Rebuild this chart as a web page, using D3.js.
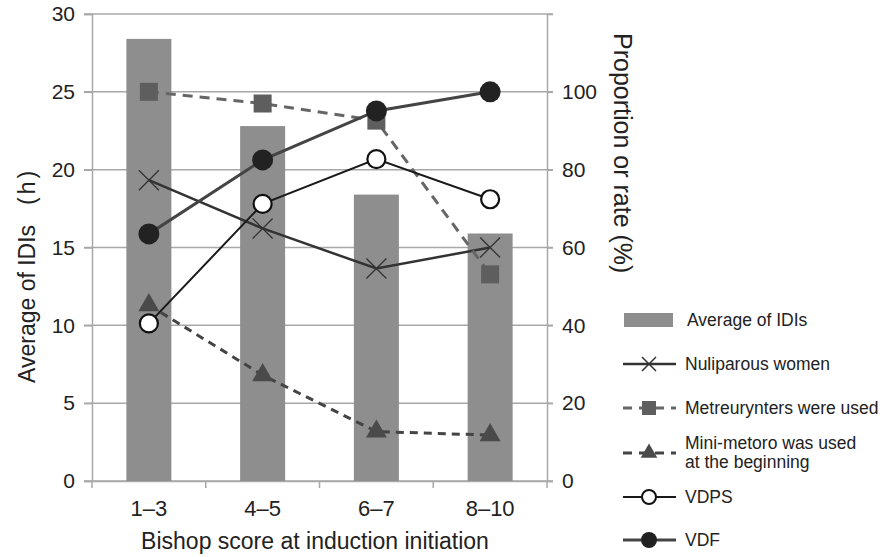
<!DOCTYPE html>
<html><head><meta charset="utf-8">
<script src="https://cdn.jsdelivr.net/npm/d3@7"></script>
<style>body{margin:0;background:#fff}svg{font-family:"Liberation Sans",Arial,sans-serif}</style>
</head><body><svg id="c" width="885" height="557"></svg>
<script>
const categories = ["1–3","4–5","6–7","8–10"];
const avgIDI = [28.4, 22.8, 18.4, 15.9];
const nuliparous = [77.3, 64.9, 54.6, 60.0];
const metreurynters = [100, 97.0, 92.6, 53.1];
const miniMetoro = [45.2, 27.2, 12.7, 11.8];
const vdps = [40.5, 71.2, 82.7, 72.4];
const vdf = [63.5, 82.5, 95.1, 100];
const leftTicks = [0,5,10,15,20,25,30];
const rightTicks = [0,20,40,60,80,100];

const svg = d3.select("#c");
const L = 92, R = 547, T = 14, B = 481;
const x = d3.scaleBand().domain(categories).range([L, R]);
const yL = d3.scaleLinear().domain([0, 30]).range([B, T]);
const yR = d3.scaleLinear().domain([0, 120]).range([B, T]);
const grid = "#a8a8a8";
const FONT = '"Liberation Sans",Arial,sans-serif';

// gridlines
svg.append("g").selectAll("line").data(leftTicks).join("line")
  .attr("x1", L - 8).attr("x2", R + 6)
  .attr("y1", d => yL(d)).attr("y2", d => yL(d))
  .attr("stroke", grid).attr("stroke-width", 1.5);

// axes
const axL = svg.append("g").attr("transform", `translate(${L},0)`)
  .call(d3.axisLeft(yL).tickValues(leftTicks).tickSize(8).tickPadding(9));
const axR = svg.append("g").attr("transform", `translate(${R},0)`)
  .call(d3.axisRight(yR).tickValues(rightTicks).tickSize(6).tickPadding(9));
const axB = svg.append("g").attr("transform", `translate(0,${B})`)
  .call(d3.axisBottom(x).tickSize(0).tickPadding(19));
[axL, axR, axB].forEach(a => {
  a.selectAll("path").attr("stroke", grid).attr("stroke-width", 1.5);
  a.selectAll("line").attr("stroke", grid).attr("stroke-width", 1.5);
  a.selectAll("text").attr("font-size", 21).attr("fill", "#222").attr("font-family", FONT);
});
axB.selectAll("text").attr("font-size", 22);
// x boundary ticks
svg.append("g").selectAll("line").data(d3.range(categories.length + 1)).join("line")
  .attr("x1", i => L + i * x.step()).attr("x2", i => L + i * x.step())
  .attr("y1", B).attr("y2", B + 7).attr("stroke", grid).attr("stroke-width", 1.5);

// bars
const bw = 45;
svg.append("g").selectAll("rect").data(avgIDI).join("rect")
  .attr("x", (d, i) => x(categories[i]) + x.bandwidth() / 2 - bw / 2)
  .attr("width", bw).attr("y", d => yL(d)).attr("height", d => B - yL(d))
  .attr("fill", "#8e8e8e");

const cx = i => x(categories[i]) + x.bandwidth() / 2;
const line = d3.line().x((d, i) => cx(i)).y(d => yR(d));

const series = [
  {name:"Nuliparous women", data:nuliparous, stroke:"#333", w:2.5, dash:null, marker:"x"},
  {name:"Metreurynters were used", data:metreurynters, stroke:"#666", w:3, dash:"10,7", marker:"square"},
  {name:"Mini-metoro was used", name2:"at the beginning", data:miniMetoro, stroke:"#444", w:3, dash:"8,6", marker:"tri"},
  {name:"VDPS", data:vdps, stroke:"#1a1a1a", w:2, dash:null, marker:"open"},
  {name:"VDF", data:vdf, stroke:"#444", w:3, dash:null, marker:"fill"}
];

function drawMarker(g, type, px, py) {
  if (type === "x") {
    g.append("path").attr("d", `M${px-10},${py-10}L${px+10},${py+10}M${px-10},${py+10}L${px+10},${py-10}`)
      .attr("stroke", "#333").attr("stroke-width", 1.3).attr("fill", "none");
  } else if (type === "square") {
    g.append("rect").attr("x", px - 9).attr("y", py - 9).attr("width", 18).attr("height", 18).attr("fill", "#5e5e5e");
  } else if (type === "tri") {
    g.append("path").attr("d", d3.symbol(d3.symbolTriangle, 190)()).attr("transform", `translate(${px},${py})`).attr("fill", "#4a4a4a");
  } else if (type === "open") {
    g.append("circle").attr("cx", px).attr("cy", py).attr("r", 9).attr("fill", "#fff").attr("stroke", "#111").attr("stroke-width", 2.2);
  } else if (type === "fill") {
    g.append("circle").attr("cx", px).attr("cy", py).attr("r", 10.5).attr("fill", "#222");
  }
}

series.forEach(s => {
  const g = svg.append("g");
  g.append("path").attr("d", line(s.data)).attr("fill", "none").attr("stroke", s.stroke)
    .attr("stroke-width", s.w).attr("stroke-dasharray", s.dash);
  s.data.forEach((d, i) => drawMarker(g, s.marker, cx(i), yR(d)));
});

// axis titles
const lt = svg.append("text").attr("transform", "translate(34.5,383) rotate(-90)").attr("text-anchor", "start")
  .attr("font-size", 23).attr("fill", "#222");
lt.append("tspan").text("Average of IDIs");
lt.append("tspan").attr("dx", 20).attr("letter-spacing", 3).text("(h)");
svg.append("text").attr("transform", "translate(614,33) rotate(90)").attr("text-anchor", "start")
  .attr("font-size", 25).attr("fill", "#222").text("Proportion or rate (%)");
svg.append("text").attr("x", 315).attr("y", 549).attr("text-anchor", "middle")
  .attr("font-size", 23).attr("fill", "#222").text("Bishop score at induction initiation");

// legend
const LF = 17.5;
const lg = svg.append("g");
lg.append("rect").attr("x", 624).attr("y", 313).attr("width", 49).attr("height", 14).attr("fill", "#8e8e8e");
lg.append("text").attr("x", 687).attr("y", 326).attr("font-size", LF).attr("fill", "#222").text("Average of IDIs");
const ly = [364, 408, 453, 497, 540];
series.forEach((s, k) => {
  const y = ly[k];
  lg.append("line").attr("x1", 623).attr("x2", 676).attr("y1", y).attr("y2", y)
    .attr("stroke", s.stroke).attr("stroke-width", s.w).attr("stroke-dasharray", s.dash ? "9,7" : null);
  const mg = lg.append("g");
  if (s.marker === "x") {
    mg.append("path").attr("d", `M${649-7},${y-7}L${649+7},${y+7}M${649-7},${y+7}L${649+7},${y-7}`)
      .attr("stroke", "#333").attr("stroke-width", 1.5);
  } else if (s.marker === "square") {
    mg.append("rect").attr("x", 642).attr("y", y - 7).attr("width", 14).attr("height", 14).attr("fill", "#5e5e5e");
  } else if (s.marker === "tri") {
    mg.append("path").attr("d", d3.symbol(d3.symbolTriangle, 120)()).attr("transform", `translate(649,${y})`).attr("fill", "#4a4a4a");
  } else if (s.marker === "open") {
    mg.append("circle").attr("cx", 649).attr("cy", y).attr("r", 7).attr("fill", "#fff").attr("stroke", "#111").attr("stroke-width", 2);
  } else {
    mg.append("circle").attr("cx", 649).attr("cy", y).attr("r", 8).attr("fill", "#222");
  }
  if (s.name2) {
    lg.append("text").attr("x", 685).attr("y", y - 4).attr("font-size", LF).attr("fill", "#222").text(s.name);
    lg.append("text").attr("x", 685).attr("y", y + 15).attr("font-size", LF).attr("fill", "#222").text(s.name2);
  } else {
    lg.append("text").attr("x", 685).attr("y", y + 6).attr("font-size", LF).attr("fill", "#222").text(s.name);
  }
});
</script></body></html>
